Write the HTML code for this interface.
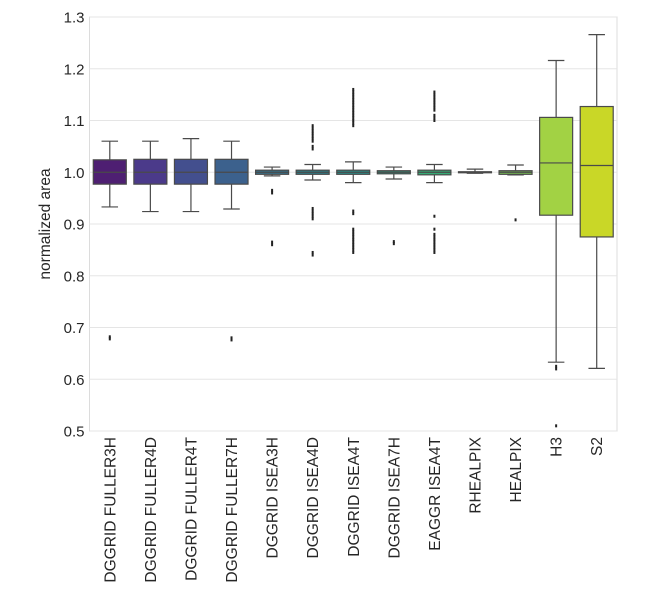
<!DOCTYPE html>
<html><head><meta charset="utf-8"><style>
body{margin:0;background:#fff;}
svg text{font-family:"Liberation Sans",sans-serif;fill:#262626;}
</style></head><body>
<svg id="chart" width="662" height="596" xmlns="http://www.w3.org/2000/svg"></svg>
<script>
const categories=["DGGRID FULLER3H","DGGRID FULLER4D","DGGRID FULLER4T","DGGRID FULLER7H","DGGRID ISEA3H","DGGRID ISEA4D","DGGRID ISEA4T","DGGRID ISEA7H","EAGGR ISEA4T","RHEALPIX","HEALPIX","H3","S2"];
const q1=[0.977,0.977,0.977,0.977,0.996,0.996,0.996,0.997,0.995,0.999,0.996,0.917,0.875];
const medians=[1.0,1.0,1.0,1.0,1.0,1.0,1.0,1.0,1.0,1.0,1.0,1.018,1.013];
const q3=[1.024,1.025,1.025,1.025,1.004,1.004,1.004,1.003,1.004,1.001,1.003,1.106,1.127];
const whiskerLow=[0.933,0.924,0.924,0.929,0.993,0.985,0.980,0.987,0.980,0.998,0.995,0.633,0.621];
const whiskerHigh=[1.06,1.06,1.065,1.06,1.01,1.015,1.02,1.01,1.015,1.006,1.014,1.216,1.266];
const outliers=[[0.678,0.682],[],[],[0.676,0.68],[0.96,0.965,0.86,0.865],
 [1.045,1.05,1.06,1.065,1.07,1.075,1.08,1.085,1.09,0.91,0.915,0.92,0.925,0.93,0.84,0.845],
 [1.09,1.095,1.1,1.105,1.11,1.115,1.12,1.125,1.13,1.135,1.14,1.145,1.15,1.155,1.16,0.92,0.925,0.845,0.85,0.855,0.86,0.865,0.87,0.875,0.88,0.885,0.89],
 [0.862,0.866],
 [1.1,1.105,1.11,1.12,1.125,1.13,1.135,1.14,1.145,1.15,1.155,0.915,0.845,0.85,0.855,0.86,0.865,0.87,0.875,0.88,0.89],
 [],[0.908],[0.62,0.625,0.51],[]];
const yTicks=[0.5,0.6,0.7,0.8,0.9,1.0,1.1,1.2,1.3];
const colors=["#4e1f72","#4b3a8a","#434f8e","#3c618d","#33718c","#2b808b","#26908a","#279f83","#35ad76","#52b965","#77c252","#a2d244","#c9d727"];
const L=89.5,R=617,T=17,B=431,ymin=0.5,ymax=1.3;
const NS="http://www.w3.org/2000/svg",svg=document.getElementById('chart');
function y(v){return B-(v-ymin)/(ymax-ymin)*(B-T);}
const band=(R-L)/categories.length;
function xc(i){return L+band*(i+0.5);}
function mk(tag,at,parent){const e=document.createElementNS(NS,tag);for(const k in at)e.setAttribute(k,at[k]);(parent||svg).appendChild(e);return e;}
let e=mk('rect',{x:L,y:T,width:R-L,height:B-T,fill:'#fff',stroke:'#dcdcdc','stroke-width':1});


yTicks.forEach(t=>{
 let g=mk('line',{x1:L,x2:R,y1:y(t),y2:y(t),stroke:'#e5e5e5','stroke-width':1});
 
 
 let tx=mk('text',{x:L-5,y:y(t)+5.5,'text-anchor':'end','font-size':15});
 tx.textContent=t.toFixed(1);
 
 
});
let yl=mk('text',{x:0,y:0,transform:`translate(50,${(T+B)/2}) rotate(-90)`,'text-anchor':'middle','font-size':15.5});
yl.textContent='normalized area';


const bw=33;
categories.forEach((c,i)=>{
 const g=mk('g',{});
 
 
 const x=xc(i),st='#4a4a4a';
 mk('line',{x1:x,x2:x,y1:y(q3[i]),y2:y(whiskerHigh[i]),stroke:st,'stroke-width':1.2},g);
 mk('line',{x1:x,x2:x,y1:y(q1[i]),y2:y(whiskerLow[i]),stroke:st,'stroke-width':1.2},g);
 mk('line',{x1:x-bw/4,x2:x+bw/4,y1:y(whiskerHigh[i]),y2:y(whiskerHigh[i]),stroke:st,'stroke-width':1.2},g);
 mk('line',{x1:x-bw/4,x2:x+bw/4,y1:y(whiskerLow[i]),y2:y(whiskerLow[i]),stroke:st,'stroke-width':1.2},g);
 mk('rect',{x:x-bw/2,y:y(q3[i]),width:bw,height:Math.max(1,y(q1[i])-y(q3[i])),fill:colors[i],stroke:st,'stroke-width':1.2},g);
 mk('line',{x1:x-bw/2,x2:x+bw/2,y1:y(medians[i]),y2:y(medians[i]),stroke:st,'stroke-width':1.2},g);
 outliers[i].forEach(v=>{mk('rect',{x:x-1,y:y(v)-1.5,width:2,height:3,fill:'#222'},g);});
 let tx=mk('text',{x:0,y:0,transform:`translate(${x+5.5},437) rotate(-90)`,'text-anchor':'end','font-size':15.5});
 tx.textContent=c;
 
 
});
</script>
</body></html>
